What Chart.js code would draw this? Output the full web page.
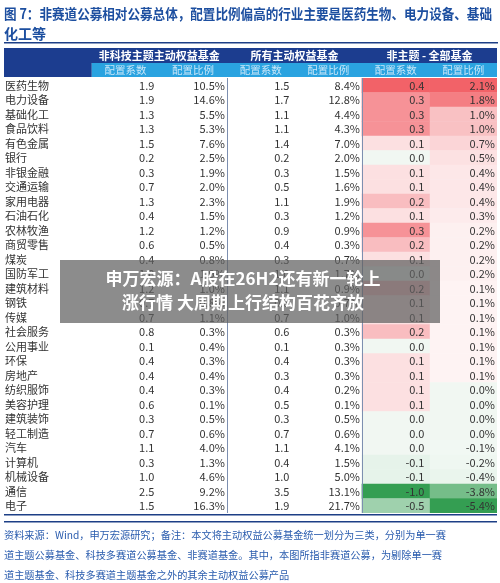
<!DOCTYPE html>
<html><head><meta charset="utf-8">
<script src="https://cdn.jsdelivr.net/npm/chart.js@4/dist/chart.umd.min.js"></script>
<style>html,body{margin:0;padding:0;background:#fff}</style>
</head><body>
<canvas id="c" width="500" height="583"></canvas>
<script>
const industries=["医药生物","电力设备","基础化工","食品饮料","有色金属","银行","非银金融","交通运输","家用电器","石油石化","农林牧渔","商贸零售","煤炭","国防军工","建筑材料","钢铁","传媒","社会服务","公用事业","环保","房地产","纺织服饰","美容护理","建筑装饰","轻工制造","汽车","计算机","机械设备","通信","电子"];
const nonTechCoef=[1.9,1.9,1.3,1.3,1.5,0.2,0.3,0.7,1.3,0.4,1.2,0.6,0.4,1.0,1.2,0.7,0.7,0.8,0.1,0.4,0.4,0.4,0.6,0.3,0.7,1.1,0.3,1.0,2.5,1.5];
const nonTechRatio=[10.5,14.6,5.5,5.3,7.6,2.5,1.9,2.0,2.3,1.5,1.2,0.5,0.8,1.9,1.0,0.8,1.1,0.3,0.4,0.3,0.4,0.3,0.1,0.5,0.6,4.0,1.3,4.6,9.2,16.3];
const allCoef=[1.5,1.7,1.1,1.1,1.4,0.2,0.3,0.5,1.1,0.3,0.9,0.4,0.3,1.0,1.1,0.6,0.7,0.6,0.1,0.4,0.3,0.4,0.5,0.3,0.7,1.1,0.4,1.0,3.5,1.9];
const allRatio=[8.4,12.8,4.4,4.3,7.0,2.0,1.5,1.6,1.9,1.2,0.9,0.3,0.7,1.7,0.9,0.7,1.0,0.3,0.3,0.3,0.3,0.2,0.1,0.5,0.6,4.1,1.5,5.0,13.1,21.7];
const diffCoef=[0.4,0.3,0.3,0.3,0.1,0.0,0.1,0.1,0.2,0.1,0.3,0.2,0.1,0.0,0.2,0.1,0.1,0.2,0.0,0.1,0.1,0.1,0.1,0.0,0.0,0.0,-0.1,-0.1,-1.0,-0.5];
const diffRatio=[2.1,1.8,1.0,1.0,0.7,0.5,0.4,0.4,0.4,0.3,0.2,0.2,0.2,0.2,0.1,0.1,0.1,0.1,0.1,0.1,0.1,0.0,0.0,0.0,0.0,-0.1,-0.2,-0.4,-3.8,-5.4];
const groups=["非科技主题主动权益基金","所有主动权益基金","非主题 - 全部基金"];
const subHeads=["配置系数","配置比例"];

const F='"Noto Sans CJK SC","Noto Sans",sans-serif';
const L=1.3; // label column width in x units
function heat(v,pmax,nmax){
  let r=255,g=255,b=255,t;
  if(v>0){t=Math.pow(Math.min(1,v/pmax),1.4);t=0.06+0.94*t;r=255-t*(255-242);g=255-t*(255-98);b=255-t*(255-104);}
  else if(v<0){t=Math.pow(Math.min(1,-v/nmax),1.2);t=0.06+0.94*t;r=255-t*(255-52);g=255-t*(255-158);b=255-t*(255-82);}
  else {r=241;g=247;b=242;}
  return `rgb(${r|0},${g|0},${b|0})`;
}
const c5=diffCoef.map(v=>heat(v,0.4,1.0));
const c6=diffRatio.map(v=>heat(v,2.1,5.4));

const plugin={id:'tbl',
 beforeDatasetsDraw(ch){
  const {ctx,scales:{x,y},chartArea:a}=ch;
  const px=u=>x.getPixelForValue(u);
  ctx.save();
  ctx.fillStyle='#1d4fa0';ctx.font='bold 14px '+F;ctx.textBaseline='middle';ctx.textAlign='left';
  ctx.fillText("图 7：非赛道公募相对公募总体，配置比例偏高的行业主要是医药生物、电力设备、基础",4,14,488);
  ctx.fillText("化工等",4,34);
  ctx.fillStyle='#1d3f86';ctx.fillRect(4,42,494,1.5);
  ctx.fillStyle='#1c3d8f';ctx.fillRect(px(0),48,px(L+6)-px(0),15);
  ctx.fillRect(px(0),63,px(L)-px(0),14);
  ctx.fillStyle='#2aa3e0';ctx.fillRect(px(L),63,px(L+6)-px(L),14);
  ctx.fillStyle='#fff';ctx.textAlign='center';ctx.font='bold 11px '+F;
  groups.forEach((g,k)=>ctx.fillText(g,(px(L+2*k)+px(L+2*k+2))/2,56));
  ctx.fillStyle='#c8e6f8';ctx.font='10.5px '+F;
  for(let k=0;k<6;k++)ctx.fillText(subHeads[k%2],(px(L+k)+px(L+k+1))/2,70.5);
  ctx.restore();
 },
 afterDatasetsDraw(ch){
  const {ctx,scales:{x,y},chartArea:a}=ch;
  const px=u=>x.getPixelForValue(u);
  ctx.save();
  ctx.font='11px '+F;ctx.textBaseline='middle';ctx.fillStyle='#333';
  const cols=[nonTechCoef.map(v=>v.toFixed(1)),nonTechRatio.map(v=>v.toFixed(1)+'%'),allCoef.map(v=>v.toFixed(1)),allRatio.map(v=>v.toFixed(1)+'%'),diffCoef.map(v=>v.toFixed(1)),diffRatio.map(v=>v.toFixed(1)+'%')];
  industries.forEach((n,i)=>{
    const yy=y.getPixelForValue(i)+0.5;
    ctx.textAlign='left';ctx.fillText(n,px(0)+1,yy);
    ctx.textAlign='right';
    cols.forEach((col,k)=>{
      const xr=(k%2===0)? px(L+k+1)-5 : px(L+k+1)-2;
      ctx.fillText(col[i],xr,yy);
    });
  });
  ctx.strokeStyle='#7d8fb0';ctx.lineWidth=1;
  [L+2,L+4].forEach(u=>{ctx.beginPath();ctx.moveTo(Math.round(px(u))+0.5,a.top);ctx.lineTo(Math.round(px(u))+0.5,a.bottom);ctx.stroke();});
  ctx.fillStyle='#1d3f86';ctx.fillRect(px(0),a.bottom+1,px(L+6)-px(0),1.5);
  ctx.fillRect(px(0),a.bottom+8,px(L+6)-px(0),1.5);
  ctx.fillStyle='#2a5cae';ctx.font='10.2px '+F;ctx.textAlign='left';
  ["资料来源：Wind，申万宏源研究；备注：本文将主动权益公募基金统一划分为三类，分别为单一赛","道主题公募基金、科技多赛道公募基金、非赛道基金。其中，本图所指非赛道公募，为剔除单一赛","道主题基金、科技多赛道主题基金之外的其余主动权益公募产品"].forEach((t,i)=>ctx.fillText(t,4,535+i*20,462));
  ctx.fillStyle='rgba(95,95,95,0.72)';ctx.fillRect(60,260,380,63);
  ctx.fillStyle='#fff';ctx.font='bold 17px '+F;ctx.textAlign='center';
  ctx.fillText("申万宏源：A股在26H2还有新一轮上",243,279);
  ctx.fillText("涨行情 大周期上行结构百花齐放",243,303);
  ctx.restore();
 }};

new Chart(document.getElementById('c'),{
 type:'bar',
 data:{labels:industries,datasets:[
  {data:industries.map(()=>[L+4,L+5]),backgroundColor:c5,borderWidth:0,barPercentage:1,categoryPercentage:1,grouped:false},
  {data:industries.map(()=>[L+5,L+6]),backgroundColor:c6,borderWidth:0,barPercentage:1,categoryPercentage:1,grouped:false}
 ]},
 options:{indexAxis:'y',responsive:false,animation:false,devicePixelRatio:1,
  layout:{padding:{left:4,right:3,top:78,bottom:70}},
  plugins:{legend:{display:false},tooltip:{enabled:false}},
  scales:{x:{type:'linear',min:0,max:L+6,display:false},
          y:{type:'category',display:false,offset:true,grid:{display:false}}}
 },
 plugins:[plugin]
});
</script>
</body></html>
